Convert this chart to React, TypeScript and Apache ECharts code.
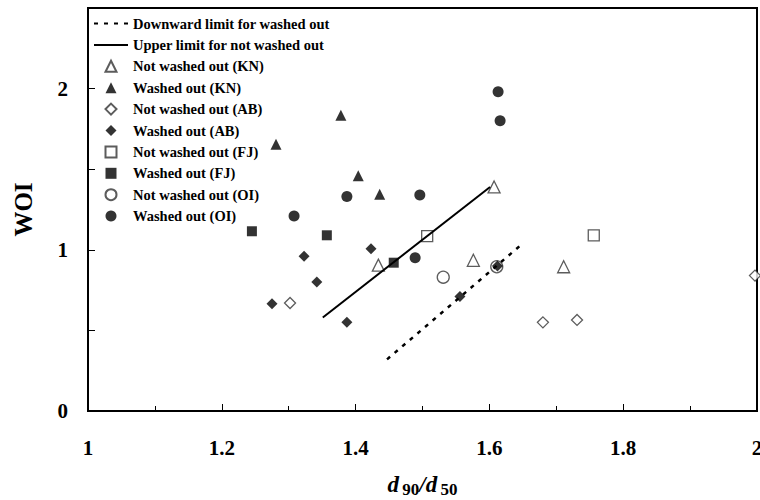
import React, { useEffect, useRef } from "react";
import * as echarts from "echarts";

const xTickValues = [1, 1.2, 1.4, 1.6, 1.8, 2];
const yTickLabels = ["0", "1", "2"];

const downwardLimitLine = [[1.447, 0.32], [1.65, 1.04]];
const upperLimitLine = [[1.351, 0.58], [1.601, 1.39]];

const notWashedKN = [[1.434, 0.905], [1.576, 0.935], [1.607, 1.39], [1.711, 0.895]];
const washedKN = [[1.281, 1.655], [1.378, 1.835], [1.404, 1.46], [1.436, 1.345]];
const notWashedAB = [[1.302, 0.67], [1.68, 0.55], [1.731, 0.565], [1.997, 0.84]];
const washedAB = [[1.275, 0.665], [1.323, 0.96], [1.342, 0.8], [1.387, 0.55], [1.423, 1.006], [1.556, 0.71], [1.612, 0.9]];
const notWashedFJ = [[1.507, 1.085], [1.756, 1.09]];
const washedFJ = [[1.245, 1.115], [1.357, 1.09], [1.457, 0.92]];
const notWashedOI = [[1.531, 0.83], [1.611, 0.895]];
const washedOI = [[1.308, 1.21], [1.387, 1.33], [1.496, 1.34], [1.489, 0.95], [1.616, 1.8], [1.613, 1.98]];

const lineNames = ["Downward limit for washed out", "Upper limit for not washed out"];
const pointNames = [
  "Not washed out (KN)",
  "Washed out (KN)",
  "Not washed out (AB)",
  "Washed out (AB)",
  "Not washed out (FJ)",
  "Washed out (FJ)",
  "Not washed out (OI)",
  "Washed out (OI)",
];

const FONT = "'Liberation Serif', 'Times New Roman', serif";

function scatter(name: string, data: number[][], symbol: string, size: number, filled: boolean) {
  return {
    name,
    type: "scatter",
    data,
    symbol,
    symbolSize: size,
    itemStyle: filled
      ? { color: "#000", borderColor: "#000", borderWidth: 0 }
      : { color: "#fff", borderColor: "#333", borderWidth: 1.3 },
    z: filled ? 3 : 2,
  };
}

const FS = 14.5;
const legendText = { fontFamily: FONT, fontWeight: "bold", fontSize: FS, color: "#000" };
const ROW = 21.4;
const LEG_TOP = 16;
const LEG_LEFT = 93;
const LINE_W = 34;
const SYM_W = 11;

export default function App() {
  const ref = useRef<HTMLDivElement>(null);
  useEffect(() => {
    document.body.style.margin = "0";
    const chart = echarts.init(ref.current!, null, { renderer: "svg" });
    const option = {
      animation: false,
      backgroundColor: "#fff",
      grid: {
        left: 88,
        right: 3,
        top: 8,
        bottom: 89,
        show: true,
        borderColor: "#000",
        borderWidth: 2,
        outerBoundsMode: "none",
        containLabel: false,
      },
      legend: [
        {
          orient: "vertical",
          left: LEG_LEFT,
          top: LEG_TOP,
          padding: 0,
          itemWidth: LINE_W,
          itemHeight: 11,
          itemGap: ROW - 15,
          textStyle: legendText,
          data: lineNames.map((n) => ({ name: n, itemStyle: { opacity: 0 } })),
        },
        {
          orient: "vertical",
          left: LEG_LEFT + (LINE_W - SYM_W) / 2,
          top: LEG_TOP + 2 * ROW,
          padding: 0,
          itemWidth: SYM_W,
          itemHeight: SYM_W,
          itemGap: ROW - 15,
          textStyle: { ...legendText, padding: [0, 0, 0, (LINE_W - SYM_W) / 2] },
          data: pointNames,
        },
      ],
      xAxis: {
        type: "value",
        min: 1,
        max: 2,
        interval: 0.2,
        name: "{i|d} {s|90}{i|/d} {s|50}",
        nameLocation: "middle",
        nameGap: 60,
        nameTextStyle: {
          rich: {
            i: { fontFamily: FONT, fontWeight: "bold", fontStyle: "italic", fontSize: 23, color: "#000" },
            s: { fontFamily: FONT, fontWeight: "bold", fontSize: 17, color: "#000", padding: [10, 0, 0, 0] },
          },
        },
        axisLine: { show: true, lineStyle: { color: "#000", width: 2 } },
        axisTick: { show: true, inside: true, length: 7, lineStyle: { color: "#000", width: 1 } },
        minorTick: { show: true, splitNumber: 2, length: 5, lineStyle: { color: "#000", width: 1 } },
        splitLine: { show: false },
        axisLabel: {
          margin: 26,
          fontFamily: FONT,
          fontWeight: "bold",
          fontSize: 21,
          color: "#000",
          formatter: (v: number) => {
            const t = xTickValues.find((x) => Math.abs(x - v) < 1e-9);
            return t === undefined ? "" : String(t);
          },
        },
      },
      yAxis: {
        type: "value",
        min: 0,
        max: 2.5,
        interval: 0.5,
        name: "WOI",
        nameLocation: "middle",
        nameGap: 52,
        nameRotate: 90,
        nameTextStyle: { fontFamily: FONT, fontWeight: "bold", fontSize: 25, color: "#000" },
        axisLine: { show: true, lineStyle: { color: "#000", width: 2 } },
        axisTick: { show: true, inside: true, length: 7, lineStyle: { color: "#000", width: 1 } },
        splitLine: { show: false },
        axisLabel: {
          margin: 20,
          fontFamily: FONT,
          fontWeight: "bold",
          fontSize: 21,
          color: "#000",
          formatter: (v: number) => {
            const s = String(Math.round(v));
            return Math.abs(v - Math.round(v)) < 1e-9 && yTickLabels.includes(s) ? s : "";
          },
        },
      },
      series: [
        {
          name: lineNames[0],
          type: "line",
          data: downwardLimitLine,
          symbol: "none",
          lineStyle: { color: "#000", width: 2.5, type: [4, 6] },
          itemStyle: { color: "#000" },
          z: 4,
        },
        {
          name: lineNames[1],
          type: "line",
          data: upperLimitLine,
          symbol: "none",
          lineStyle: { color: "#000", width: 2 },
          itemStyle: { color: "#000" },
          z: 4,
        },
        scatter(pointNames[0], notWashedKN, "triangle", 12, false),
        scatter(pointNames[1], washedKN, "triangle", 11, true),
        scatter(pointNames[2], notWashedAB, "diamond", 11, false),
        scatter(pointNames[3], washedAB, "diamond", 11, true),
        scatter(pointNames[4], notWashedFJ, "rect", 11, false),
        scatter(pointNames[5], washedFJ, "rect", 10, true),
        scatter(pointNames[6], notWashedOI, "circle", 12, false),
        scatter(pointNames[7], washedOI, "circle", 11, true),
      ],
    };
    chart.setOption(option as any);
    return () => chart.dispose();
  }, []);
  return <div ref={ref} style={{ width: 760, height: 500 }} />;
}
